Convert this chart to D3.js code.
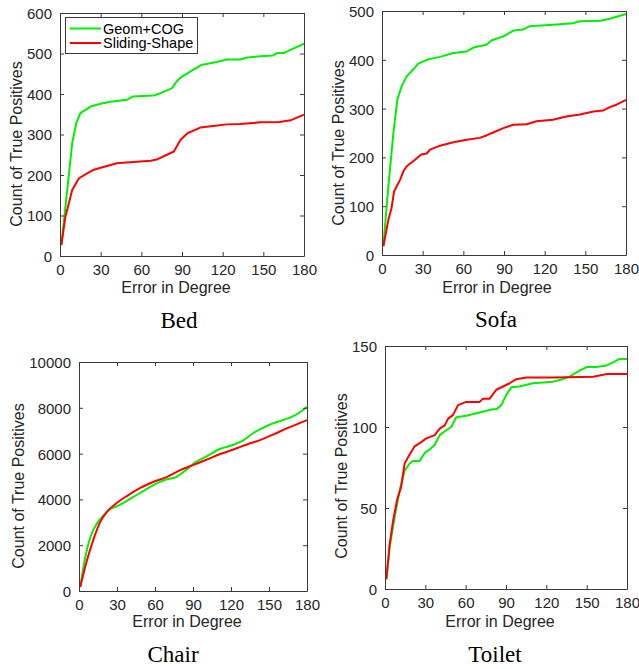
<!DOCTYPE html>
<html>
<head>
<meta charset="utf-8">
<script src="https://cdn.jsdelivr.net/npm/d3@7"></script>
<style>
  body { margin: 0; background: #fff; }
  svg { display: block; }
  .tick text { font-family: "Liberation Sans", Arial, sans-serif; font-size: 15px; fill: #262626; }
  .axis-title { font-family: "Liberation Sans", Arial, sans-serif; font-size: 16px; fill: #262626; }
  .caption { font-family: "Liberation Serif", "Times New Roman", serif; font-size: 23px; fill: #000; }
  .legend text { font-family: "Liberation Sans", Arial, sans-serif; font-size: 14.5px; fill: #000; }
</style>
</head>
<body>
<div id="chart"></div>
<script>
const WIDTH = 639;
const HEIGHT = 669;

const seriesNames = ["Geom+COG", "Sliding-Shape"];
const seriesColors = ["#00f000", "#ff0000"];
const degTicks = [0, 30, 60, 90, 120, 150, 180];

// Bed
const bedGeomDeg = [1, 9, 12, 15, 22.5, 30, 37, 49.5, 54, 69, 74, 82.5, 86, 90, 98.5, 104.5, 108, 115.5, 123, 133, 138, 147.5, 157, 160, 165, 170, 180];
const bedGeomCount = [27, 279, 328, 353, 369, 376, 381, 386, 394, 396, 402, 414, 431, 443, 460, 472, 474, 479, 485, 485, 490, 493, 495, 501, 501, 509, 524];
const bedSlideDeg = [1, 4, 9, 14, 20, 25, 30, 42, 54, 67, 72, 79, 84, 89, 94, 103.5, 113, 123, 133, 148, 162, 170, 180];
const bedSlideCount = [27, 97, 163, 192, 204, 213, 218, 229, 232, 235, 239, 250, 258, 287, 303, 317, 321, 325, 326, 330, 331, 335, 349];

// Sofa
const sofaGeomDeg = [1, 4.7, 8.4, 11.3, 14.5, 18.2, 23, 26.8, 33, 42.8, 52.6, 62.5, 67.4, 77, 81, 89.5, 97, 104, 109, 126, 141, 146, 161, 168, 180];
const sofaGeomCount = [18, 141, 250, 318, 346, 366, 380, 392, 400, 406, 414, 417, 425, 431, 440, 448, 460, 462, 469, 472, 475, 479, 480, 484, 494];
const sofaSlideDeg = [1, 4.7, 7, 8.9, 13.3, 15.7, 18.2, 23, 29, 33, 35.4, 42.8, 52.6, 62.5, 72, 77, 82, 89.5, 97, 106.7, 114, 126, 136, 146, 151, 156, 163, 168, 173, 180];
const sofaSlideCount = [18, 72, 96, 130, 154, 171, 182, 192, 206, 208, 216, 224, 231, 236, 240, 245, 251, 260, 267, 268, 274, 277, 284, 288, 291, 294, 296, 303, 308, 318];

// Chair
const chairGeomDeg = [1, 5, 9, 14.2, 19.5, 23.4, 28.7, 35, 43, 54, 62, 69.5, 77, 82.6, 90.5, 101, 111.6, 122, 130, 138, 148, 159, 167, 175, 180];
const chairGeomCount = [175, 1490, 2360, 2950, 3310, 3530, 3670, 3850, 4110, 4475, 4720, 4880, 4985, 5200, 5570, 5890, 6210, 6385, 6590, 6910, 7200, 7430, 7580, 7830, 8050];
const chairSlideDeg = [1, 6.3, 11.6, 16.8, 22, 30, 38, 48, 59, 69.5, 80, 90.5, 101, 111.6, 122, 132.6, 143, 153.7, 164, 175, 180];
const chairSlideCount = [175, 1340, 2290, 3020, 3455, 3850, 4155, 4490, 4770, 4985, 5280, 5510, 5740, 5980, 6180, 6400, 6590, 6840, 7100, 7350, 7465];

// Toilet
const toiletGeomDeg = [1, 3.5, 7.2, 10.9, 14.6, 18.3, 20.8, 25.8, 29.5, 33, 37, 40.7, 45.6, 49.3, 53, 60.5, 70.4, 80, 83, 86.5, 90.3, 94, 100, 110, 125, 130, 137, 145, 150, 157, 165, 170, 174.6, 180];
const toiletGeomCount = [6, 26, 44.5, 61, 73, 77.5, 79, 79, 84, 86, 89, 95, 98, 100, 106, 107, 109, 111, 111, 113.5, 120, 124.5, 125, 127, 128, 129, 131, 135, 137, 137, 138, 140, 142, 142];
const toiletSlideDeg = [1, 3.5, 6, 9, 12, 14.6, 18.3, 22, 25.8, 30.7, 37, 40.7, 44.4, 46.9, 50.6, 54.3, 60.5, 70.4, 72.9, 77.9, 82.8, 87.8, 92.7, 97.7, 105, 125, 155, 165, 180];
const toiletSlideCount = [6, 28, 42, 55, 63, 77.5, 83, 88, 90, 93, 95, 99, 101, 105, 107.5, 113.5, 115.5, 115.5, 117.5, 117.5, 123, 125, 127, 129.5, 130.5, 130.5, 131, 132.7, 132.7];

const zip = (xs, ys) => xs.map((x, i) => [x, ys[i]]);

// panel boxes in page pixels
const panels = [
  { name: "Bed", box: [60, 13, 304, 256], yMax: 600, yTicks: [0, 100, 200, 300, 400, 500, 600],
    series: [zip(bedGeomDeg, bedGeomCount), zip(bedSlideDeg, bedSlideCount)],
    yLabelX: 16, yLabelY: 144, xLabelX: 176, xLabelY: 293, capX: 179, capY: 328, legend: true },
  { name: "Sofa", box: [382, 11, 626, 255], yMax: 500, yTicks: [0, 100, 200, 300, 400, 500],
    series: [zip(sofaGeomDeg, sofaGeomCount), zip(sofaSlideDeg, sofaSlideCount)],
    yLabelX: 338, yLabelY: 143, xLabelX: 497, xLabelY: 293, capX: 496, capY: 327 },
  { name: "Chair", box: [79, 362, 307, 591], yMax: 10000, yTicks: [0, 2000, 4000, 6000, 8000, 10000],
    series: [zip(chairGeomDeg, chairGeomCount), zip(chairSlideDeg, chairSlideCount)],
    yLabelX: 18, yLabelY: 486, xLabelX: 187, xLabelY: 627, capX: 173, capY: 662, smooth: true },
  { name: "Toilet", box: [385, 346, 627, 589], yMax: 150, yTicks: [0, 50, 100, 150],
    series: [zip(toiletGeomDeg, toiletGeomCount), zip(toiletSlideDeg, toiletSlideCount)],
    yLabelX: 341, yLabelY: 476, xLabelX: 500, xLabelY: 627, capX: 495, capY: 662 }
];

const svg = d3.select("#chart").append("svg")
  .attr("width", WIDTH)
  .attr("height", HEIGHT);

panels.forEach(p => {
  const [x0, y0, x1, y1] = p.box;
  const x = d3.scaleLinear().domain([0, 180]).range([x0, x1]);
  const y = d3.scaleLinear().domain([0, p.yMax]).range([y1, y0]);
  const g = svg.append("g");

  // lines
  const line = d3.line()
    .x(d => x(d[0]))
    .y(d => y(d[1]))
    .curve(p.smooth ? d3.curveMonotoneX : d3.curveLinear);
  p.series.forEach((s, i) => {
    g.append("path")
      .datum(s)
      .attr("fill", "none")
      .attr("stroke", seriesColors[i])
      .attr("stroke-width", 2)
      .attr("stroke-linejoin", "round")
      .attr("d", line);
  });

  // axes, ticks inward, mirrored on top/right
  const axisColor = "#3a3a3a";
  const bottom = g.append("g").attr("transform", `translate(0,${y1})`)
    .call(d3.axisBottom(x).tickValues(degTicks).tickSizeInner(-4).tickSizeOuter(0).tickPadding(8));
  const left = g.append("g").attr("transform", `translate(${x0},0)`)
    .call(d3.axisLeft(y).tickValues(p.yTicks).tickFormat(d3.format("d")).tickSizeInner(-4).tickSizeOuter(0).tickPadding(8));
  const top = g.append("g").attr("transform", `translate(0,${y0})`)
    .call(d3.axisTop(x).tickValues(degTicks).tickSizeInner(-4).tickSizeOuter(0).tickFormat(""));
  const right = g.append("g").attr("transform", `translate(${x1},0)`)
    .call(d3.axisRight(y).tickValues(p.yTicks).tickSizeInner(-4).tickSizeOuter(0).tickFormat(""));
  [bottom, left, top, right].forEach(a => {
    a.select(".domain").attr("stroke", axisColor);
    a.selectAll(".tick line").attr("stroke", axisColor);
  });
  left.selectAll(".tick text").attr("dx", "0").attr("dy", "0.36em");
  bottom.selectAll(".tick text").attr("dy", "0.72em");

  // axis titles
  g.append("text").attr("class", "axis-title")
    .attr("transform", `translate(${p.yLabelX},${p.yLabelY}) rotate(-90)`)
    .attr("text-anchor", "middle")
    .attr("dy", "0.35em")
    .text("Count of True Positives");
  g.append("text").attr("class", "axis-title")
    .attr("x", p.xLabelX).attr("y", p.xLabelY)
    .attr("text-anchor", "middle")
    .text("Error in Degree");

  // caption
  g.append("text").attr("class", "caption")
    .attr("x", p.capX).attr("y", p.capY)
    .attr("text-anchor", "middle")
    .text(p.name);

  if (p.legend) {
    const lg = g.append("g").attr("class", "legend");
    lg.append("rect")
      .attr("x", 65.5).attr("y", 17.5).attr("width", 132).attr("height", 36)
      .attr("fill", "#fff").attr("stroke", axisColor);
    seriesNames.forEach((n, i) => {
      const ly = 28.5 + i * 14.5;
      lg.append("line")
        .attr("x1", 70).attr("x2", 101).attr("y1", ly).attr("y2", ly)
        .attr("stroke", seriesColors[i]).attr("stroke-width", 2);
      lg.append("text")
        .attr("x", 103).attr("y", ly).attr("dy", "0.36em")
        .text(n);
    });
  }
});
</script>
</body>
</html>
